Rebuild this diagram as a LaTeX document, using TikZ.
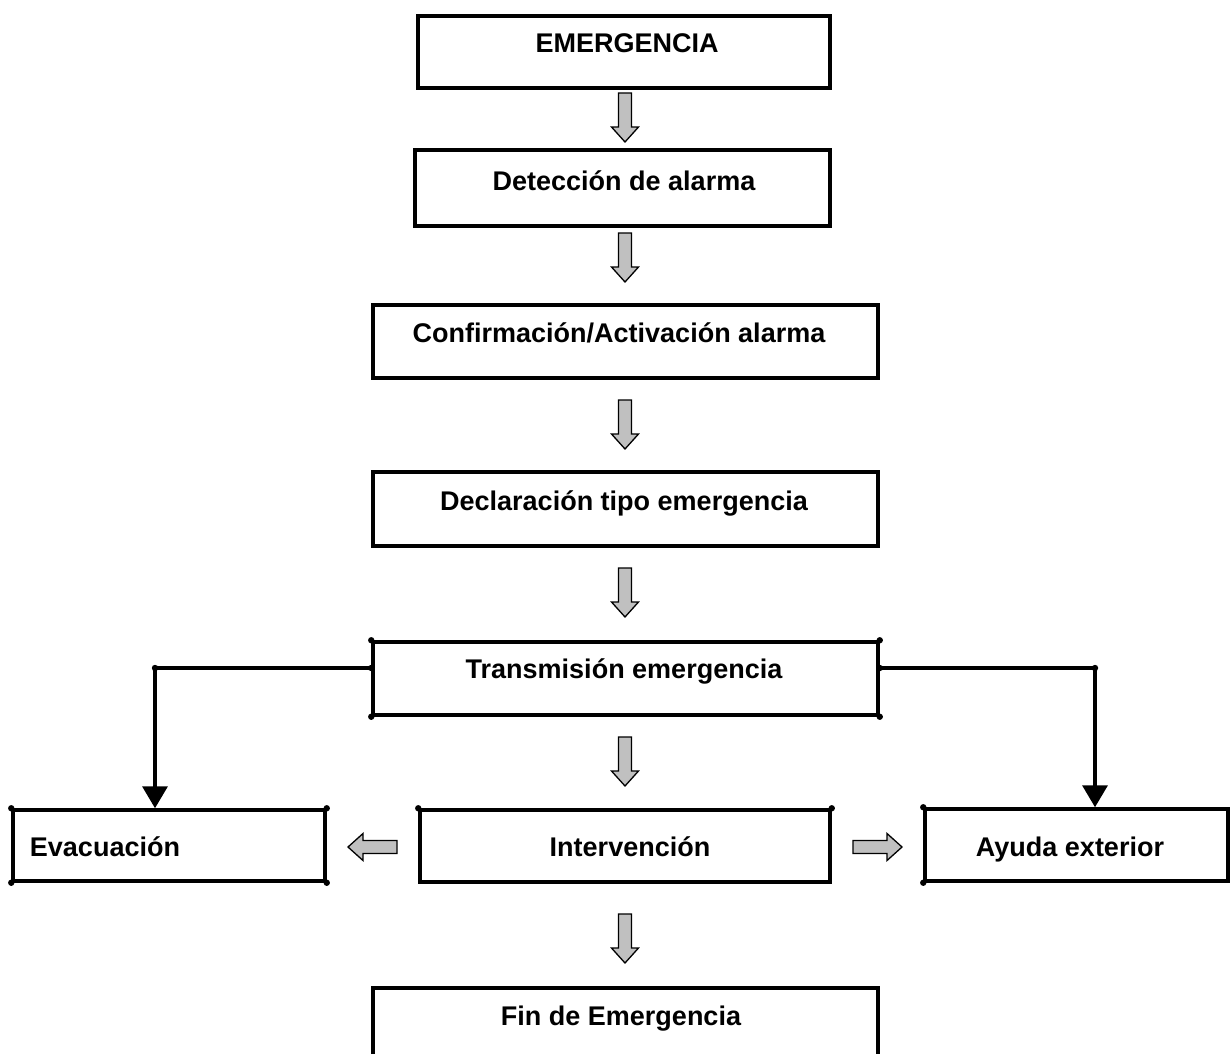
\documentclass[tikz,border=0pt]{standalone}
\usepackage{fontspec}
\setmainfont{Liberation Sans}
\usetikzlibrary{arrows.meta,calc}
\definecolor{agray}{RGB}{192,192,192}
\tikzset{
  box/.style={draw, line width=3.5pt, inner sep=0pt, rectangle},
  lbl/.style={anchor=base, inner sep=0pt, font=\bfseries\fontsize{27}{31}\selectfont},
  branch/.style={line width=3.5pt, -{Triangle[length=22pt,width=25pt]}},
  garrow/.pic={\draw[fill=agray, line width=1.3pt, line join=miter]
     (-6.5,0) -- (6.5,0) -- (6.5,34) -- (13.5,34) -- (0,49) -- (-13.5,34) -- (-6.5,34) -- cycle;}
}
\begin{document}
\begin{tikzpicture}[x=1pt,y=-1pt]
\useasboundingbox (0,0) rectangle (1230,1054);
\fill[white] (0,0) rectangle (1230,1054);

% boxes
\node[box, minimum width=412pt, minimum height=72pt] (b1) at (624,52) {};
\node[box, minimum width=415pt, minimum height=76pt] (b2) at (622.5,188) {};
\node[box, minimum width=505pt, minimum height=73pt] (b3) at (625.5,341.5) {};
\node[box, minimum width=505pt, minimum height=74pt] (b4) at (625.5,509) {};
\node[box, minimum width=505pt, minimum height=73pt] (b5) at (625.5,678.5) {};
\node[box, minimum width=312pt, minimum height=71pt] (b6) at (169,845.5) {};
\node[box, minimum width=410pt, minimum height=72pt] (b7) at (625,846) {};
\node[box, minimum width=303pt, minimum height=72pt] (b8) at (1076.5,845) {};
\node[inner sep=0pt, minimum width=505pt, minimum height=66pt] (b9) at (625.5,1021) {};
\draw[line width=3.5pt] (b9.south west) |- (b9.north east) -- (b9.south east);

% labels
\node[lbl] (t1) at (627,52.5) {EMERGENCIA};
\node[lbl] (t2) at (624,190.5) {Detección de alarma};
\node[lbl] (t3) at (619,342.5) {Confirmación/Activación alarma};
\node[lbl] (t4) at (624,510.5) {Declaración tipo emergencia};
\node[lbl] (t5) at (624,678.5) {Transmisión emergencia};
\node[lbl] (t6) at (105,856.5) {Evacuación};
\node[lbl] (t7) at (630,856.5) {Intervención};
\node[lbl] (t8) at (1070,856.5) {Ayuda exterior};
\node[lbl] (t9) at (621,1025.5) {Fin de Emergencia};

% gray block arrows
\pic at (625,93) {garrow};
\pic at (625,233) {garrow};
\pic at (625,400) {garrow};
\pic at (625,568) {garrow};
\pic at (625,737) {garrow};
\pic at (625,914) {garrow};
\pic[rotate=-90] at (397,847) {garrow};
\pic[rotate=90] at (853,847) {garrow};

% branch connectors
\draw[branch] ([yshift=10.5pt]b5.west) -| ([xshift=-14pt]b6.north);
\draw[branch] ([yshift=10.5pt]b5.east) -| ([xshift=18.5pt]b8.north);

% junction dots
\foreach \p in {b5.north west,b5.north east,b5.south west,b5.south east,
                b6.north west,b6.north east,b6.south west,b6.south east,
                b7.north west,b7.north east,
                b8.north west,b8.south west}
  \fill (\p) circle (3.2pt);
\fill ([yshift=10.5pt]b5.west) circle (3.2pt);
\fill ([yshift=10.5pt]b5.east) circle (3.2pt);
\fill (155,668) circle (3.2pt);
\fill (1095,668) circle (3.2pt);
\end{tikzpicture}
\end{document}
